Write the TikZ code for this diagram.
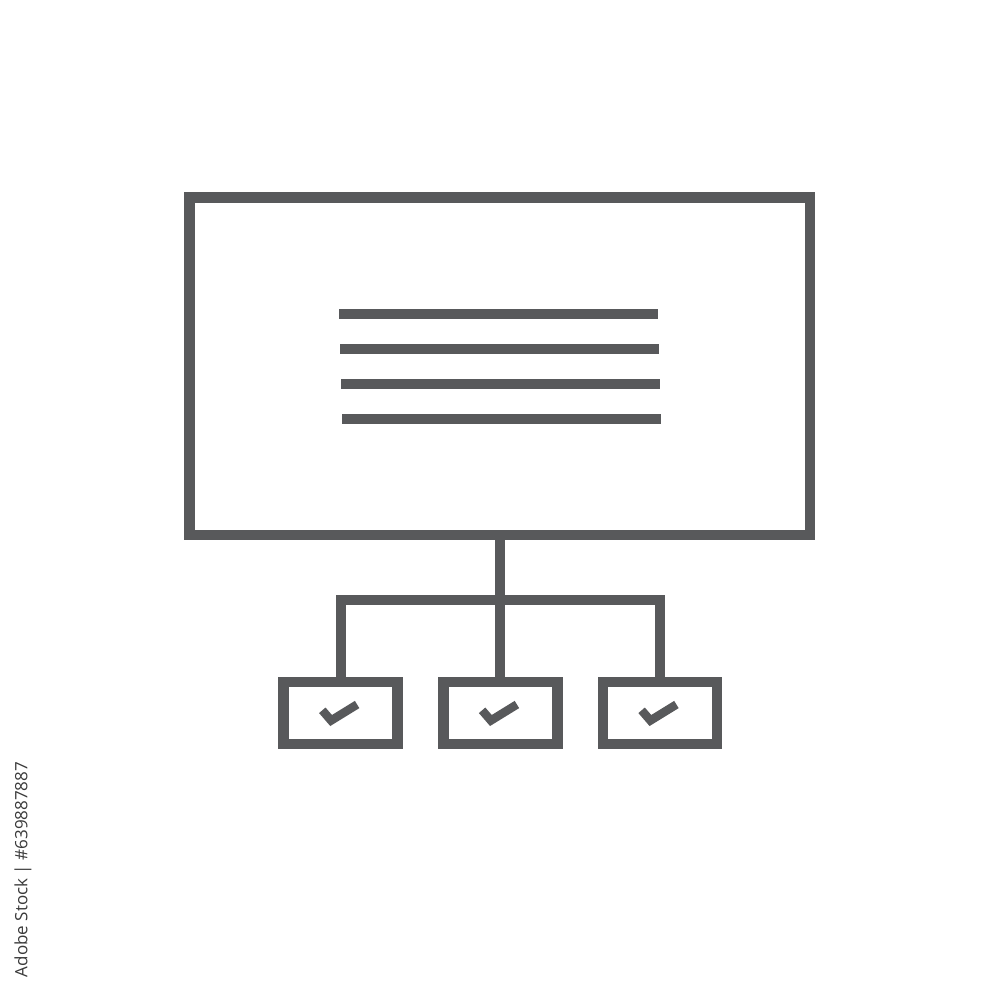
\documentclass[tikz,border=0pt]{standalone}
\usepackage{fontspec}
\setmainfont{Open Sans}
\usetikzlibrary{calc}
\definecolor{ink}{HTML}{58595B}
\definecolor{wmark}{HTML}{3A3A3A}
\begin{document}
\begin{tikzpicture}[x=1pt,y=-1pt,
  every node/.style={inner sep=0pt,outer sep=0pt},
  box/.style={draw=ink,line width=10.5pt,rectangle},
  wire/.style={draw=ink,line width=10pt,line join=miter},
  textline/.style={draw=ink,line width=10.2pt,line cap=butt},
  tick/.style={draw=ink,line width=8.5pt,line join=miter,line cap=butt}]
\fill[white] (0,0) rectangle (1000,1000);
\useasboundingbox (0,0) rectangle (1000,1000);
% main panel
\node[box,minimum width=620.5pt,minimum height=337.5pt] (big) at (499.75,366.25) {};
% text lines
\draw[textline] (339.3,314.2) -- (658.3,314.2);
\draw[textline] (340.3,349.1) -- (658.8,349.1);
\draw[textline] (341.2,384.1) -- (659.6,384.1);
\draw[textline] (342.1,419.2) -- (660.6,419.2);
% small boxes
\foreach \n/\cx in {b1/340.5,b2/500.3,b3/659.8}{
  \node[box,minimum width=114pt,minimum height=62.3pt] (\n) at (\cx,712.9) {};
  \draw[tick] ($(\n.center)+(-18.2,-2.6)$) -- ($(\n.center)+(-9.4,7.6)$) -- ($(\n.center)+(16.6,-8.4)$);
}
% connectors
\coordinate (jn) at (500.3,599.6);
\draw[wire] (big.south -| b2.north) -- (b2.north);
\draw[wire] (b1.north) |- (jn) -| (b3.north);
% vertical credit text
\node[rotate=90,text=wmark,font=\fontsize{17}{17}\selectfont] (credit) at (23,869.5) {Adobe Stock | \#639887887};
\end{tikzpicture}
\end{document}
